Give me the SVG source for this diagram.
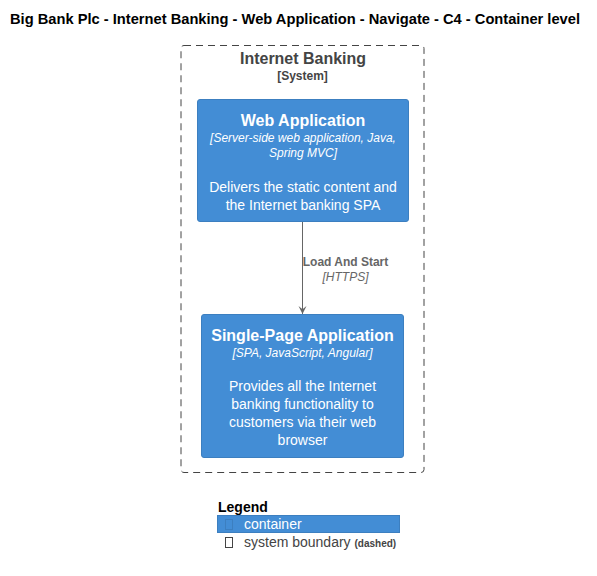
<svg xmlns="http://www.w3.org/2000/svg" width="597" height="576" viewBox="0 0 597 576">
<style>
text{font-family:"Liberation Sans",Arial,sans-serif}
.w{fill:#FFFFFF;text-anchor:middle}
.nt{font-size:16px;font-weight:bold}
.tech{font-size:12px;font-style:italic}
.desc{font-size:14px}
.box{fill:#438DD5;stroke:#3C7FC0;stroke-width:1}
</style>
<defs>
<marker id="arr" viewBox="0 0 10 10" refX="10" refY="5" markerWidth="8" markerHeight="10" markerUnits="userSpaceOnUse" orient="auto">
<path d="M0,0 L10,5 L0,10 L4,5 Z" fill="#666666"/>
</marker>
</defs>
<rect width="597" height="576" fill="#FFFFFF"/>
<text x="10" y="24" font-size="14" font-weight="bold" fill="#000" textLength="570" lengthAdjust="spacingAndGlyphs">Big Bank Plc - Internet Banking - Web Application - Navigate - C4 - Container level</text>
<g id="boundary">
<rect x="181" y="45.5" width="243" height="427" rx="3" fill="none" stroke="#444444" stroke-dasharray="7,5"/>
<text x="240" y="64" font-size="16" font-weight="bold" fill="#444444" textLength="126" lengthAdjust="spacingAndGlyphs">Internet Banking</text>
<text x="302.5" y="80" text-anchor="middle" font-size="12" font-weight="bold" fill="#444444">[System]</text>
</g>
<g id="webapp">
<rect class="box" x="197.5" y="99.5" width="211" height="122" rx="2.5"/>
<text class="w nt" x="303" y="126">Web Application</text>
<text class="w tech" x="303" y="142">[Server-side web application, Java,</text>
<text class="w tech" x="303" y="157">Spring MVC]</text>
<text class="w desc" x="303" y="192">Delivers the static content and</text>
<text class="w desc" x="303" y="210">the Internet banking SPA</text>
</g>
<g id="spa">
<rect class="box" x="201.5" y="314.5" width="202" height="143" rx="2.5"/>
<text class="w nt" x="302.5" y="341">Single-Page Application</text>
<text class="w tech" x="302.5" y="357">[SPA, JavaScript, Angular]</text>
<text class="w desc" x="302.5" y="391">Provides all the Internet</text>
<text class="w desc" x="302.5" y="409">banking functionality to</text>
<text class="w desc" x="302.5" y="427">customers via their web</text>
<text class="w desc" x="302.5" y="445">browser</text>
</g>
<g id="connectors">
<line x1="302.5" y1="222" x2="302.5" y2="314" stroke="#666666" stroke-width="1" marker-end="url(#arr)"/>
<text x="345.5" y="266" text-anchor="middle" font-size="12" font-weight="bold" fill="#666666">Load And Start</text>
<text x="345.5" y="281" text-anchor="middle" font-size="12" font-style="italic" fill="#666666">[HTTPS]</text>
</g>
<g id="legend">
<text x="218" y="512" font-size="14" font-weight="bold" fill="#000">Legend</text>
<rect x="217.5" y="515.5" width="182" height="17" fill="#438DD5" stroke="#3C7FC0"/>
<rect x="225.5" y="519.5" width="7" height="10" fill="none" stroke="#3C7FC0"/>
<text x="244" y="529" font-size="14" fill="#FFFFFF">container</text>
<rect x="225.5" y="537.5" width="7" height="10" fill="none" stroke="#444444"/>
<text x="244" y="547" font-size="14" fill="#444444">system boundary <tspan font-size="10" font-weight="bold">(dashed)</tspan></text>
</g>
</svg>
